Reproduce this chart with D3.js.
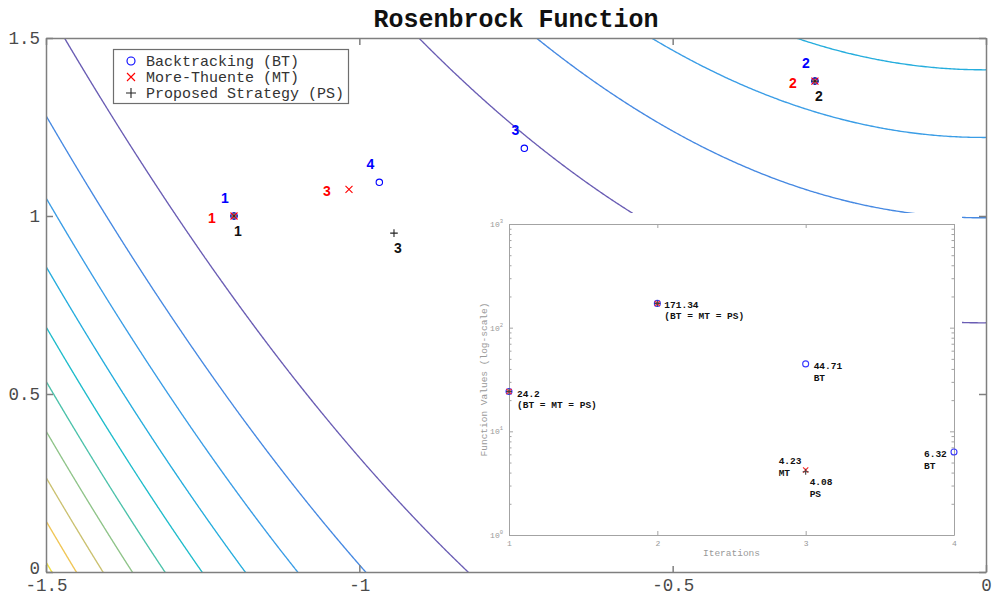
<!DOCTYPE html>
<html>
<head>
<meta charset="utf-8">
<script src="https://cdn.jsdelivr.net/npm/d3@7"></script>
<style>
  body { margin: 0; background: #fff; }
  svg { display: block; }
</style>
</head>
<body>
<svg id="chart" width="992" height="598"></svg>
<script>
// ---- Data ---------------------------------------------------------------
// Contour levels of the Rosenbrock function and the colour of each level line
const contourLevels = [50, 100, 150, 200, 250, 300, 350, 400, 450, 500];
const contourColors = ["#6a5db4", "#4689e2", "#3a9de6", "#25addd", "#1fbccb",
                       "#4cc2aa", "#8fc489", "#cbc170", "#f0c656", "#f2e23e"];

// Axis ticks of the main plot
const xTicks = [-1.5, -1, -0.5, 0];
const yTicks = [0, 0.5, 1, 1.5];

// Iterates (x, y) of each line-search strategy
const btX = [-1.2, -0.273, -0.7367, -0.9681];
const btY = [1.0, 1.379, 1.1902, 1.0947];
const mtX = [-1.2, -0.273, -1.0165];
const mtY = [1.0, 1.379, 1.0750];
const psX = [-1.2, -0.273, -0.9447];
const psY = [1.0, 1.379, 0.952];

// Function value per iteration (inset plot)
const iterations = [1, 2, 3, 4];
const btValues = [24.2, 171.34, 44.71, 6.32];
const mtValues = [24.2, 171.34, 4.23];
const psValues = [24.2, 171.34, 4.08];
const insetXTicks = [1, 2, 3, 4];
const insetYTicks = [1, 10, 100, 1000];

// Value notes in the inset: iteration, value, lines of text
const noteIters = [1, 2, 3, 3, 3, 4];
const noteValues = [24.2, 171.34, 44.71, 4.23, 4.08, 6.32];
const noteTags = ["(BT = MT = PS)", "(BT = MT = PS)", "BT", "MT", "PS", "BT"];

const legendLabels = ["Backtracking (BT)", "More-Thuente (MT)", "Proposed Strategy (PS)"];
const titleText = "Rosenbrock Function";

// ---- Layout / style -----------------------------------------------------
const plot = { left: 46, right: 986, top: 38, bottom: 572 };
const inset = { left: 509, right: 954, top: 224, bottom: 535 };
const noteOffsets = [[8, 2], [7, 1], [8, 2], [-27, -9], [4, 10], [-30, 2]];
const monoFont = "'Liberation Mono', 'DejaVu Sans Mono', monospace";
const sansFont = "'Liberation Sans', Arial, sans-serif";
const axisGrey = "#7f7f7f";

const svg = d3.select("#chart");

// ---- Scales -------------------------------------------------------------
const x = d3.scaleLinear().domain([-1.5, 0]).range([plot.left, plot.right]);
const y = d3.scaleLinear().domain([0, 1.5]).range([plot.bottom, plot.top]);
const ix = d3.scaleLinear().domain([1, 4]).range([inset.left, inset.right]);
const iy = d3.scaleLog().domain([1, 1000]).range([inset.bottom, inset.top]);

// ---- Contour lines of f(x,y) = (1-x)^2 + 100 (y - x^2)^2 -----------------
const rosen = (a, b) => (1 - a) * (1 - a) + 100 * (b - a * a) * (b - a * a);
const gx0 = -1.6, gx1 = 0.1, gy0 = -0.1, gy1 = 1.6, nx = 520, ny = 520;
const gdx = (gx1 - gx0) / (nx - 1), gdy = (gy1 - gy0) / (ny - 1);
const grid = new Float64Array(nx * ny);
for (let j = 0; j < ny; j++) {
  for (let i = 0; i < nx; i++) {
    grid[j * nx + i] = rosen(gx0 + i * gdx, gy0 + j * gdy);
  }
}
const contours = d3.contours().size([nx, ny]).thresholds(contourLevels)(grid);
const gridToPixels = d3.geoTransform({
  point(px, py) {
    this.stream.point(x(gx0 + (px - 0.5) * gdx), y(gy0 + (py - 0.5) * gdy));
  }
});
const contourPath = d3.geoPath(gridToPixels);

svg.append("clipPath").attr("id", "plot-clip")
  .append("rect")
  .attr("x", plot.left).attr("y", plot.top)
  .attr("width", plot.right - plot.left).attr("height", plot.bottom - plot.top);

const levelColor = d3.scaleOrdinal().domain(contourLevels).range(contourColors);
svg.append("g").attr("clip-path", "url(#plot-clip)")
  .selectAll("path").data(contours).join("path")
  .attr("d", contourPath)
  .attr("fill", "none")
  .attr("stroke", d => levelColor(d.value))
  .attr("stroke-width", 1.35);

// ---- Main axes ----------------------------------------------------------
function styleAxis(g, colour, width) {
  g.select(".domain").attr("stroke", colour).attr("stroke-width", width);
  g.selectAll(".tick line").attr("stroke", colour).attr("stroke-width", width);
}
const fmt = d => String(d);

const gBottom = svg.append("g").attr("transform", `translate(0,${plot.bottom})`)
  .call(d3.axisBottom(x).tickValues(xTicks).tickFormat(fmt)
    .tickSizeInner(-7).tickSizeOuter(0).tickPadding(7));
const gLeft = svg.append("g").attr("transform", `translate(${plot.left},0)`)
  .call(d3.axisLeft(y).tickValues(yTicks).tickFormat(fmt)
    .tickSizeInner(-7).tickSizeOuter(0).tickPadding(6));
const gTop = svg.append("g").attr("transform", `translate(0,${plot.top})`)
  .call(d3.axisTop(x).tickValues(xTicks).tickFormat("")
    .tickSizeInner(-7).tickSizeOuter(0));
const gRight = svg.append("g").attr("transform", `translate(${plot.right},0)`)
  .call(d3.axisRight(y).tickValues(yTicks).tickFormat("")
    .tickSizeInner(-7).tickSizeOuter(0));
[gBottom, gLeft, gTop, gRight].forEach(g => styleAxis(g, axisGrey, 1.5));
[gBottom, gLeft].forEach(g => g.selectAll(".tick text")
  .attr("font-family", monoFont).attr("font-size", 17.5).attr("fill", "#4a4a4a"));
// lift the lowest y label a little so it clears the x labels
gLeft.selectAll(".tick text").filter(d => d === 0).attr("dy", "0.1em");

// ---- Inset: function value per iteration --------------------------------
svg.append("rect")
  .attr("x", 472).attr("y", 213).attr("width", 490).attr("height", 353)
  .attr("fill", "#fff");

const insetGrey = "#a3a3a3";
const minorTicks = [];
[1, 10, 100].forEach(d => { for (let m = 2; m <= 9; m++) minorTicks.push(d * m); });

const giBottom = svg.append("g").attr("transform", `translate(0,${inset.bottom})`)
  .call(d3.axisBottom(ix).tickValues(insetXTicks).tickFormat(fmt)
    .tickSizeInner(-4).tickSizeOuter(0).tickPadding(5));
const giTop = svg.append("g").attr("transform", `translate(0,${inset.top})`)
  .call(d3.axisTop(ix).tickValues(insetXTicks).tickFormat("")
    .tickSizeInner(-4).tickSizeOuter(0));
const giLeft = svg.append("g").attr("transform", `translate(${inset.left},0)`)
  .call(d3.axisLeft(iy).tickValues(insetYTicks).tickFormat("")
    .tickSizeInner(-4).tickSizeOuter(0));
const giRight = svg.append("g").attr("transform", `translate(${inset.right},0)`)
  .call(d3.axisRight(iy).tickValues(insetYTicks).tickFormat("")
    .tickSizeInner(-4).tickSizeOuter(0));
const giLeftMinor = svg.append("g").attr("transform", `translate(${inset.left},0)`)
  .call(d3.axisLeft(iy).tickValues(minorTicks).tickFormat("")
    .tickSizeInner(-2.5).tickSizeOuter(0));
const giRightMinor = svg.append("g").attr("transform", `translate(${inset.right},0)`)
  .call(d3.axisRight(iy).tickValues(minorTicks).tickFormat("")
    .tickSizeInner(-2.5).tickSizeOuter(0));
[giBottom, giTop, giLeft, giRight, giLeftMinor, giRightMinor]
  .forEach(g => styleAxis(g, insetGrey, 1));
[giLeftMinor, giRightMinor].forEach(g => g.select(".domain").remove());
giBottom.selectAll(".tick text")
  .attr("font-family", monoFont).attr("font-size", 8).attr("fill", "#999");

// Decade labels 10^k on the log axis
const decadeLabels = svg.append("g").selectAll("text").data(insetYTicks).join("text")
  .attr("x", inset.left - 6).attr("y", d => iy(d) + 3)
  .attr("text-anchor", "end")
  .attr("font-family", monoFont).attr("font-size", 8).attr("fill", "#999");
decadeLabels.append("tspan").text("10");
decadeLabels.append("tspan").attr("dy", -4).attr("font-size", 5.5)
  .text(d => String(Math.round(Math.log10(d))));

svg.append("text")
  .attr("x", (inset.left + inset.right) / 2).attr("y", inset.bottom + 21)
  .attr("text-anchor", "middle")
  .attr("font-family", monoFont).attr("font-size", 9.5).attr("fill", "#999")
  .text("Iterations");
svg.append("text")
  .attr("transform", `translate(${inset.left - 22},${(inset.top + inset.bottom) / 2}) rotate(-90)`)
  .attr("text-anchor", "middle")
  .attr("font-family", monoFont).attr("font-size", 9.5).attr("fill", "#999")
  .text("Function Values (log-scale)");

// ---- Marker helpers -----------------------------------------------------
function circleMarks(g, pts, r, colour) {
  g.selectAll(null).data(pts).join("circle")
    .attr("cx", d => d[0]).attr("cy", d => d[1]).attr("r", r)
    .attr("fill", "none").attr("stroke", colour).attr("stroke-width", 1.1);
}
function crossMarks(g, pts, h, colour) {
  g.selectAll(null).data(pts).join("path")
    .attr("d", d => `M${d[0] - h},${d[1] - h}L${d[0] + h},${d[1] + h}M${d[0] - h},${d[1] + h}L${d[0] + h},${d[1] - h}`)
    .attr("stroke", colour).attr("stroke-width", 1.1).attr("fill", "none");
}
function plusMarks(g, pts, h, colour) {
  g.selectAll(null).data(pts).join("path")
    .attr("d", d => `M${d[0] - h},${d[1]}L${d[0] + h},${d[1]}M${d[0]},${d[1] - h}L${d[0]},${d[1] + h}`)
    .attr("stroke", colour).attr("stroke-width", 1.1).attr("fill", "none");
}

// Inset markers
const gInsetMarks = svg.append("g");
circleMarks(gInsetMarks, btValues.map((v, i) => [ix(iterations[i]), iy(v)]), 3, "#3a3aff");
crossMarks(gInsetMarks, mtValues.map((v, i) => [ix(iterations[i]), iy(v)]), 2.6, "#ff2020");
plusMarks(gInsetMarks, psValues.map((v, i) => [ix(iterations[i]), iy(v)]), 3, "#444");

// Inset value notes
const notes = svg.append("g").selectAll("text").data(noteValues).join("text")
  .attr("x", (v, i) => ix(noteIters[i]) + noteOffsets[i][0])
  .attr("y", (v, i) => iy(v) + noteOffsets[i][1])
  .attr("font-family", monoFont).attr("font-size", 9.5).attr("font-weight", "bold")
  .attr("fill", "#111");
notes.append("tspan").attr("dy", "0.35em").text(v => String(v));
notes.append("tspan")
  .attr("x", (v, i) => ix(noteIters[i]) + noteOffsets[i][0])
  .attr("dy", 11.5).text((v, i) => noteTags[i]);

// ---- Iterates on the contour plot ----------------------------------------
const gMarks = svg.append("g");
circleMarks(gMarks, btX.map((v, i) => [x(v), y(btY[i])]), 3.2, "#0000ff");
crossMarks(gMarks, mtX.map((v, i) => [x(v), y(mtY[i])]), 3.5, "#ff0000");
plusMarks(gMarks, psX.map((v, i) => [x(v), y(psY[i])]), 3.8, "#222");

// Iteration numbers beside each iterate
function iterLabels(xs, ys, dx, dy, colour) {
  svg.append("g").selectAll("text").data(xs).join("text")
    .attr("x", (v, i) => x(v) + dx).attr("y", (v, i) => y(ys[i]) + dy)
    .attr("text-anchor", "middle").attr("dy", "0.35em")
    .attr("font-family", sansFont).attr("font-size", 14).attr("font-weight", "bold")
    .attr("fill", colour)
    .text((v, i) => String(i + 1));
}
iterLabels(btX, btY, -9, -18, "#0000ff");
iterLabels(mtX, mtY, -22, 2, "#ff0000");
iterLabels(psX, psY, 4, 15, "#111");

// ---- Legend -------------------------------------------------------------
const legend = svg.append("g");
legend.append("rect")
  .attr("x", 113.5).attr("y", 49.5).attr("width", 235).attr("height", 54)
  .attr("fill", "#fff").attr("stroke", "#6e6e6e").attr("stroke-width", 1.2);
const rowY = [61, 77, 93];
circleMarks(legend, [[131, rowY[0]]], 4, "#0000ff");
crossMarks(legend, [[131, rowY[1]]], 4, "#ff0000");
plusMarks(legend, [[131, rowY[2]]], 5, "#222");
legend.selectAll("text").data(legendLabels).join("text")
  .attr("x", 146).attr("y", (d, i) => rowY[i]).attr("dy", "0.35em")
  .attr("font-family", monoFont).attr("font-size", 15).attr("fill", "#333")
  .text(d => d);

// ---- Title --------------------------------------------------------------
svg.append("text")
  .attr("x", (plot.left + plot.right) / 2).attr("y", 27)
  .attr("text-anchor", "middle")
  .attr("font-family", monoFont).attr("font-size", 25).attr("font-weight", "bold")
  .attr("fill", "#111")
  .text(titleText);
</script>
</body>
</html>
